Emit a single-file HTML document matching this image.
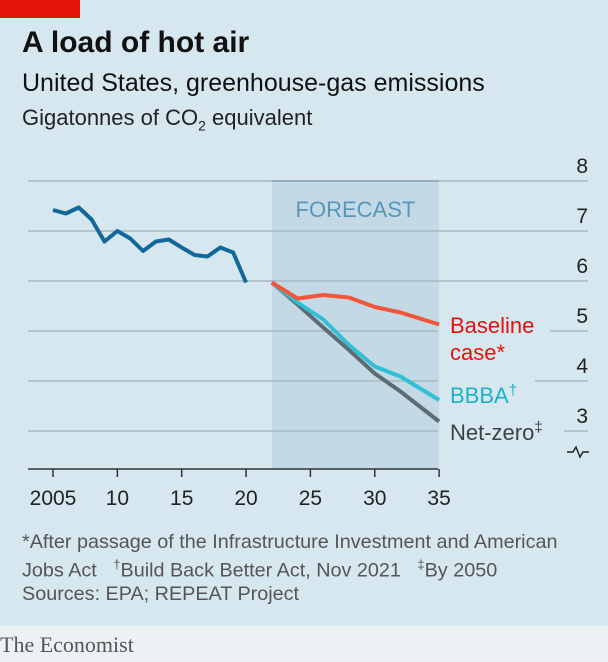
<!DOCTYPE html>
<html><head><meta charset="utf-8">
<style>
body{margin:0;width:608px;height:662px;background:#d7e7f0;font-family:"Liberation Sans",sans-serif;overflow:hidden;position:relative}
.t{position:absolute;white-space:nowrap}
</style></head><body>
<div style="position:absolute;left:0;top:0;width:80px;height:18px;background:#e3120b"></div>
<div class="t" style="left:22px;top:26px;font-size:30px;font-weight:bold;color:#111">A load of hot air</div>
<div class="t" style="left:22px;top:69px;font-size:25px;color:#111">United States, greenhouse-gas emissions</div>
<div class="t" style="left:22px;top:105px;font-size:22px;color:#222">Gigatonnes of CO<sub style="font-size:14px">2</sub> equivalent</div>
<svg id="chart" width="608" height="530" style="position:absolute;left:0;top:0"></svg>
<div class="t" style="left:22px;top:531px;font-size:19.8px;color:#555">*After passage of the Infrastructure Investment and American</div>
<div class="t" style="left:22px;top:557px;font-size:19.8px;color:#555">Jobs Act &nbsp;&nbsp;<sup style="font-size:13px">†</sup>Build Back Better Act, Nov 2021 &nbsp;&nbsp;<sup style="font-size:13px">‡</sup>By 2050</div>
<div class="t" style="left:22px;top:583px;font-size:19.8px;color:#555">Sources: EPA; REPEAT Project</div>
<div style="position:absolute;left:0;top:626px;width:608px;height:36px;background:#eef1f3"></div>
<div class="t" style="left:0px;top:632px;font-size:22px;color:#555;font-family:'Liberation Serif',serif">The Economist</div>
<script>
const histYears=[2005,2006,2007,2008,2009,2010,2011,2012,2013,2014,2015,2016,2017,2018,2019,2020];
const histValues=[7.42,7.35,7.47,7.23,6.79,7.0,6.85,6.6,6.79,6.83,6.67,6.52,6.49,6.67,6.57,5.97];
const fcYears=[2022,2024,2026,2028,2030,2032,2035];
const baselineValues=[5.97,5.65,5.72,5.67,5.48,5.37,5.13];
const bbbaValues=[5.97,5.57,5.23,4.72,4.29,4.09,3.62];
const netZeroValues=[5.97,5.53,5.07,4.62,4.15,3.79,3.19];
const yTicks=[3,4,5,6,7,8];
const xTicks=[2005,2010,2015,2020,2025,2030,2035];
const xTickLabels=["2005","10","15","20","25","30","35"];
const fcStart=2022, fcEnd=2035;
const X=y=>53+(y-2005)*12.87;
const Y=v=>181+(8-v)*50;
const svg=document.getElementById('chart');
const NS='http://www.w3.org/2000/svg';
function mk(tag,at){const e=document.createElementNS(NS,tag);for(const k in at)e.setAttribute(k,at[k]);svg.appendChild(e);return e;}
let band=mk('rect',{x:X(fcStart),y:Y(8),width:X(fcEnd)-X(fcStart),height:469-Y(8),fill:'#c3dae6'});


let bt=mk('line',{x1:X(fcStart),x2:X(fcEnd),y1:Y(8),y2:Y(8),stroke:'#5a95b8','stroke-width':2});


let ft=mk('text',{x:(X(fcStart)+X(fcEnd))/2,y:217,'text-anchor':'middle','font-size':22,fill:'#5a95b8','font-family':'Liberation Sans'});
ft.textContent='FORECAST';


const gaps={5:[438,550],4:[438,535],3:[438,564]};
yTicks.forEach(v=>{
  const yy=Y(v);
  const segs=gaps[v]?[[28,gaps[v][0]],[gaps[v][1],588]]:[[28,588]];
  segs.forEach(s=>{
    let g=mk('line',{x1:s[0],x2:s[1],y1:yy,y2:yy,stroke:'#a9b8c1','stroke-width':1.5});
    
    
  });
  let t=mk('text',{x:588,y:yy-8,'text-anchor':'end','font-size':21,fill:'#222','font-family':'Liberation Sans'});
  t.textContent=v;
  
  
});
let br=mk('path',{d:'M567 452 h6 l3 -5 l4 10 l3 -5 h6',stroke:'#222','stroke-width':1.5,fill:'none'});


let ax=mk('line',{x1:28,x2:438,y1:469,y2:469,stroke:'#333','stroke-width':1.5});


xTicks.forEach((yr,i)=>{
  let tk=mk('line',{x1:X(yr),x2:X(yr),y1:469,y2:477,stroke:'#333','stroke-width':1.5});
  
  
  let t=mk('text',{x:X(yr),y:505,'text-anchor':'middle','font-size':21,fill:'#222','font-family':'Liberation Sans'});
  t.textContent=xTickLabels[i];
  
  
});
function line(years,vals,color,name,w){
  const p=mk('polyline',{points:years.map((y,i)=>X(y)+','+Y(vals[i])).join(' '),fill:'none',stroke:color,'stroke-width':w,'stroke-linejoin':'round'});
  
  
}
line(fcYears,netZeroValues,'#5f6b73','net-zero-line',4);
line(fcYears,bbbaValues,'#2fbfd6','bbba-line',4);
line(fcYears,baselineValues,'#f2553a','baseline-line',4);
line(histYears,histValues,'#12689b','historical-line',4);
function lab(txt,x,y,color,name){
  const t=mk('text',{x:x,y:y,'font-size':22,fill:color,'font-family':'Liberation Sans'});
  t.innerHTML=txt;
  
  
}
lab('Baseline',450,333,'#e3120b','legend-baseline');
lab('case*',450,360,'#e3120b','legend-baseline-2');
lab('BBBA<tspan font-size="15" dy="-8">†</tspan>',450,403,'#1bb2c9','legend-bbba');
lab('Net-zero<tspan font-size="15" dy="-8">‡</tspan>',450,440,'#3a4247','legend-net-zero');
</script>
</body></html>
